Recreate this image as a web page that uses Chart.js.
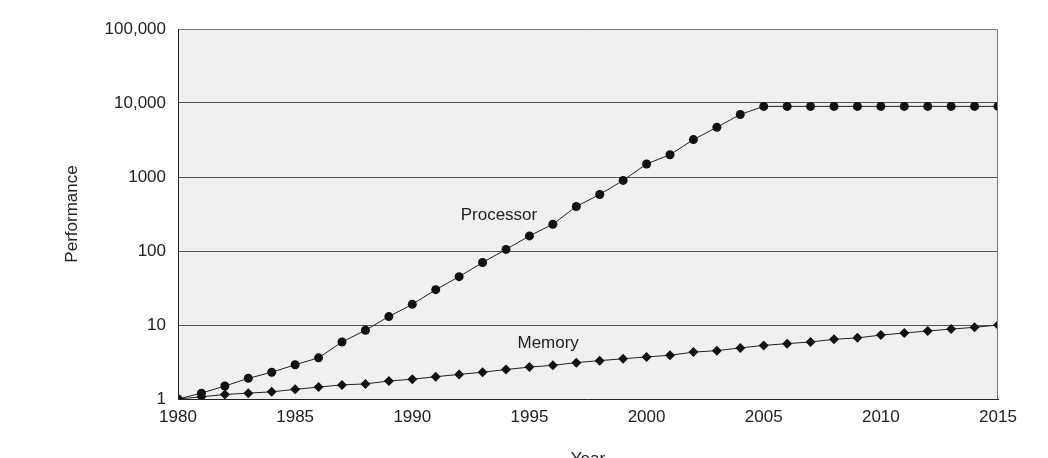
<!DOCTYPE html>
<html>
<head>
<meta charset="utf-8">
<script src="https://cdn.jsdelivr.net/npm/chart.js@4"></script>
<style>
  body { margin: 0; background: #fff; }
  #wrap { width: 1048px; height: 458px; }
</style>
</head>
<body>
<div id="wrap"><canvas id="chart"></canvas></div>
<script>
'use strict';

const years = [];
for (let y = 1980; y <= 2015; y++) years.push(y);

const processorValues = [1, 1.2, 1.5, 1.9, 2.3, 2.9, 3.6, 5.9, 8.5, 13, 19, 30, 45, 70, 105, 160, 230, 400, 580, 900,
  1500, 2000, 3200, 4700, 7000, 9000, 9000, 9000, 9000, 9000, 9000, 9000, 9000, 9000, 9000, 9000];
const memoryValues = [1, 1.07, 1.15, 1.2, 1.25, 1.35, 1.45, 1.55, 1.6, 1.75, 1.85, 2.0, 2.15, 2.3, 2.5, 2.7, 2.85, 3.1, 3.3, 3.5,
  3.7, 3.9, 4.3, 4.5, 4.9, 5.3, 5.6, 5.9, 6.4, 6.7, 7.3, 7.8, 8.3, 8.8, 9.3, 10];
const yTicks = [1, 10, 100, 1000, 10000, 100000];
const yTickLabels = ['1', '10', '100', '1000', '10,000', '100,000'];
const seriesLabels = [
  { text: 'Processor', x: 1993.7, y: 300 },
  { text: 'Memory', x: 1995.8, y: 5.7 }
];

const FONT = 'Arial, "Liberation Sans", sans-serif';

// grey plot background, frame + inline series labels
const plotDecor = {
  id: 'plotDecor',
  beforeDraw(chart) {
    const a = chart.chartArea, c = chart.ctx;
    c.save();
    c.fillStyle = '#f0f0f0';
    c.fillRect(a.left, a.top, a.right - a.left, a.bottom - a.top);
    c.restore();
  },
  afterDatasetsDraw(chart) {
    const a = chart.chartArea, c = chart.ctx, xs = chart.scales.x, ys = chart.scales.y;
    c.save();
    c.strokeStyle = '#777';
    c.lineWidth = 1;
    c.beginPath();
    c.moveTo(a.left, a.top + 0.5);
    c.lineTo(a.right - 0.5, a.top + 0.5);
    c.lineTo(a.right - 0.5, a.bottom);
    c.stroke();
    c.strokeStyle = '#222';
    c.beginPath();
    c.moveTo(a.left + 0.5, a.top);
    c.lineTo(a.left + 0.5, a.bottom);
    c.stroke();
    c.font = '17px ' + FONT;
    c.fillStyle = '#222';
    c.textAlign = 'center';
    c.textBaseline = 'middle';
    seriesLabels.forEach(l => c.fillText(l.text, xs.getPixelForValue(l.x), ys.getPixelForValue(l.y)));
    c.restore();
  }
};

function toPoints(vals) {
  return vals.map((v, i) => ({ x: years[i], y: v }));
}

new Chart(document.getElementById('chart'), {
  type: 'line',
  data: {
    datasets: [{
      label: 'Processor',
      data: toPoints(processorValues),
      borderColor: '#222',
      backgroundColor: '#111',
      borderWidth: 1,
      pointStyle: 'circle',
      pointRadius: 4.5,
      pointBorderWidth: 0
    }, {
      label: 'Memory',
      data: toPoints(memoryValues),
      borderColor: '#222',
      backgroundColor: '#111',
      borderWidth: 1,
      pointStyle: 'rectRot',
      pointRadius: 5,
      pointBorderWidth: 0
    }]
  },
  options: {
    responsive: true,
    maintainAspectRatio: false,
    animation: false,
    layout: { padding: { top: 29, right: 50, left: 0, bottom: 0 } },
    plugins: { legend: { display: false }, tooltip: { enabled: false } },
    scales: {
      x: {
        type: 'linear',
        min: 1980,
        max: 2015,
        afterFit(s) { s.height = 59; },
        ticks: {
          stepSize: 5,
          color: '#222',
          font: { size: 17, family: FONT },
          padding: 4,
          callback: v => String(v)
        },
        grid: { display: false, drawTicks: true, tickLength: 4, tickColor: '#222' },
        border: { color: '#222', width: 1 },
        title: {
          display: true,
          text: 'Year',
          color: '#222',
          font: { size: 17, family: FONT },
          padding: { top: 0, bottom: -12 }
        }
      },
      y: {
        type: 'logarithmic',
        min: 1,
        max: 100000,
        afterFit(s) { s.width = 178; },
        afterBuildTicks(s) { s.ticks = yTicks.map(v => ({ value: v })); },
        ticks: {
          color: '#222',
          font: { size: 17, family: FONT },
          padding: 12,
          callback: v => yTickLabels[yTicks.indexOf(v)]
        },
        grid: {
          color: ctx => (ctx.tick && ctx.tick.value > 1 && ctx.tick.value < 100000) ? '#555' : 'rgba(0,0,0,0)',
          borderDash: [2, 3],
          drawTicks: false
        },
        border: { display: false },
        title: {
          display: true,
          text: 'Performance',
          color: '#222',
          font: { size: 17, family: FONT },
          padding: { top: 62, bottom: 0 }
        }
      }
    }
  },
  plugins: [plotDecor]
});
</script>
</body>
</html>
